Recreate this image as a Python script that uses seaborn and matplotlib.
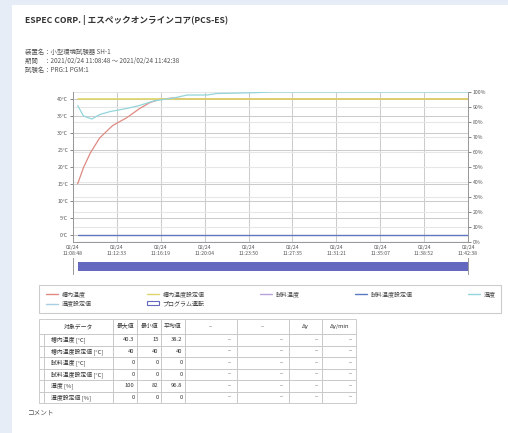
import matplotlib
matplotlib.use("Agg")
import matplotlib.pyplot as plt
from matplotlib.lines import Line2D
from matplotlib.patches import Patch, Rectangle
import seaborn as sns

# ------------------------------- data ------------------------------------------------------------------

title = "ESPEC CORP. | エスペックオンラインコア(PCS-ES)"
info_lines = ["装置名：小型環境試験器 SH-1",
              "期間　：2021/02/24 11:08:48 ～ 2021/02/24 11:42:38",
              "試験名：PRG:1 PGM:1"]
comment_label = "コメント"

start_clock = "11:08:48"
end_clock = "11:42:38"
tick_date = "02/24"
tick_clocks = ["11:08:48", "11:12:33", "11:16:19", "11:20:04", "11:23:50",
               "11:27:35", "11:31:21", "11:35:07", "11:38:52", "11:42:38"]

# elapsed minutes since start
chamber_min = [0.4, 0.9, 1.5, 2.3, 3.4, 4.6, 5.7, 6.6, 7.5, 8.5, 10.0, 33.8]
chamber_temp = [15, 19.8, 24.2, 28.6, 32.2, 34.5, 37.2, 39.0, 40.0, 40.3, 40.0, 40.0]

humid_min = [0.4, 0.9, 1.6, 2.3, 3.2, 4.6, 5.7, 6.9, 8.6, 9.8, 11.5, 12.3, 15.4, 17.0, 33.8]
humid_pct = [91, 84, 82, 85, 87, 89, 91, 94, 96, 98, 98, 99, 99.5, 100, 100]

setpoint_min = [0.4, 33.8]
chamber_set = [40, 40]
sample_temp = [0, 0]
sample_set = [0, 0]
humid_set = [0, 0]
program_span = [0.4, 33.8]

temp_ticks = [0, 5, 10, 15, 20, 25, 30, 35, 40]
humid_ticks = [0, 10, 20, 30, 40, 50, 60, 70, 80, 90, 100]

legend_labels = ["槽内温度", "槽内温度設定値", "試料温度", "試料温度設定値", "湿度",
                 "湿度設定値", "プログラム運転"]

table_cols = ["対象データ", "最大値", "最小値", "平均値", "--", "--", "Δy", "Δy/min"]
table_rows = ["槽内温度 [°C]", "槽内温度設定値 [°C]", "試料温度 [°C]",
              "試料温度設定値 [°C]", "湿度 [%]", "湿度設定値 [%]"]
table_max = [40.3, 40, 0, 0, 100, 0]
table_min = [15, 40, 0, 0, 82, 0]
table_mean = [38.2, 40, 0, 0, 96.8, 0]

# ------------------------------- styling ----------------------------------------------

C_CHAMBER = "#de8a82"
C_CHAMBER_SET = "#ddd46a"
C_SAMPLE = "#b9a3dc"
C_SAMPLE_SET = "#5a78bd"
C_HUMID = "#93d5da"
C_HUMID_SET = "#a9cde2"
C_PROGRAM = "#6468be"

W, H = 508, 433


def fx(px):
    return px / W


def fy(py):
    return 1 - py / H


def to_min(clock):
    h, m, s = map(int, clock.split(":"))
    h0, m0, s0 = map(int, start_clock.split(":"))
    return ((h * 3600 + m * 60 + s) - (h0 * 3600 + m0 * 60 + s0)) / 60


sns.set_theme(style="white")
plt.rcParams['font.family'] = ['Noto Sans CJK JP', 'DejaVu Sans']

fig = plt.figure(figsize=(W / 100, H / 100), dpi=100, facecolor="#e6edf7")
fig.add_artist(Rectangle((fx(12), 0), 1, fy(5), transform=fig.transFigure,
                         facecolor="white", edgecolor="none", zorder=-5))

# header texts
fig.text(fx(25), fy(20), title, fontsize=6.2, fontweight="bold", color="#333333", va="center")
for i, line in enumerate(info_lines):
    fig.text(fx(25), fy(52 + i * 9), line, fontsize=4.6, color="#555555", va="center")
fig.text(fx(28), fy(413), comment_label, fontsize=4.8, color="#555555", va="center")

# ------------------------------- chart ----------------------------------------------

ax = fig.add_axes([fx(73), fy(242), fx(468) - fx(73), fy(92) - fy(242)])
ax2 = ax.twinx()
t_lo, t_hi = -2.2, 42.1
x_lo, x_hi = 0, to_min(end_clock)

sns.lineplot(x=chamber_min, y=chamber_temp, ax=ax, color=C_CHAMBER, linewidth=0.9)
sns.lineplot(x=setpoint_min, y=chamber_set, ax=ax, color=C_CHAMBER_SET, linewidth=1.2)
sns.lineplot(x=setpoint_min, y=sample_temp, ax=ax, color=C_SAMPLE, linewidth=0.9)
sns.lineplot(x=setpoint_min, y=sample_set, ax=ax, color=C_SAMPLE_SET, linewidth=0.9)
sns.lineplot(x=humid_min, y=humid_pct, ax=ax2, color=C_HUMID, linewidth=0.9)
sns.lineplot(x=setpoint_min, y=humid_set, ax=ax2, color=C_HUMID_SET, linewidth=0.9)

ax.set_xlim(x_lo, x_hi)
ax.set_ylim(t_lo, t_hi)
ax2.set_ylim(0, 100)

ax.set_xticks([to_min(c) for c in tick_clocks])
ax.set_xticklabels([f"{tick_date}\n{c}" for c in tick_clocks])
ax.set_yticks(temp_ticks)
ax.set_yticklabels([f"{v}°C" for v in temp_ticks])
ax2.set_yticks(humid_ticks)
ax2.set_yticklabels([f"{v}%" for v in humid_ticks])

# humidity grid drawn on the back axes so the lines stay on top
ax.set_yticks([t_lo + (t_hi - t_lo) * p / 100 for p in humid_ticks], minor=True)
ax.grid(which="major", axis="both", color="#cccccc", linewidth=0.75)
ax.grid(which="minor", axis="y", color="#e6e6e6", linewidth=0.75)
ax2.grid(False)
ax.set_axisbelow(True)

for a in (ax, ax2):
    a.set_xlabel("")
    a.set_ylabel("")
    a.spines["top"].set_visible(False)
    for s in ("left", "right", "bottom"):
        a.spines[s].set_color("#999999")
        a.spines[s].set_linewidth(0.7)
ax.tick_params(axis="both", which="major", labelsize=3.7, colors="#555555",
               length=2, width=0.5, pad=1.5)
ax.tick_params(axis="y", which="minor", length=0)
ax.tick_params(axis="x", length=0, pad=2)
ax2.tick_params(axis="y", labelsize=3.7, colors="#555555", length=2, width=0.5, pad=1.5)

# program run bar
axb = fig.add_axes([fx(73), fy(274), fx(468) - fx(73), fy(258) - fy(274)])
axb.barh([0.47], [program_span[1] - program_span[0]], left=[program_span[0]],
         height=0.56, color=C_PROGRAM, edgecolor="none")
axb.set_xlim(x_lo, x_hi)
axb.set_ylim(0, 1)
axb.set_xticks([])
axb.set_yticks([])
for s in ("top", "bottom"):
    axb.spines[s].set_visible(False)
for s in ("left", "right"):
    axb.spines[s].set_color("#999999")
    axb.spines[s].set_linewidth(0.7)
axb.patch.set_alpha(0)

# ------------------------------- legend ----------------------------------------------

fig.add_artist(Rectangle((fx(39), fy(313)), fx(501) - fx(39), fy(285) - fy(313),
                         transform=fig.transFigure, facecolor="none",
                         edgecolor="#cccccc", linewidth=0.8))
colors = [C_CHAMBER, C_CHAMBER_SET, C_SAMPLE, C_SAMPLE_SET, C_HUMID, C_HUMID_SET]
handles = [Line2D([], [], color=c, linewidth=1.0) for c in colors]
handles.append(Patch(facecolor="white", edgecolor=C_PROGRAM, linewidth=0.8))
order = [0, 5, 1, 6, 2, 3, 4]
fig.legend([handles[i] for i in order], [legend_labels[i] for i in order],
           loc="upper left", bbox_to_anchor=(fx(42), fy(313), fx(500) - fx(42), fy(287) - fy(313)),
           mode="expand", ncol=5, frameon=False, fontsize=4.3, handlelength=2.0,
           handleheight=0.6, handletextpad=0.6, labelspacing=0.6, borderpad=0.2,
           labelcolor="#444444")

# ------------------------------- table ----------------------------------------------

axt = fig.add_axes([fx(39), fy(403), fx(356) - fx(39), fy(319) - fy(403)])
axt.axis("off")
cells = [[""] + table_cols]
for name, mx, mn, av in zip(table_rows, table_max, table_min, table_mean):
    cells.append(["", name, f"{mx:g}", f"{mn:g}", f"{av:g}", "--", "--", "--", "--"])
col_px = [5, 69, 24, 24, 24, 52, 52, 33, 34]
tab = axt.table(cellText=cells, colWidths=[w / sum(col_px) for w in col_px],
                cellLoc="right", bbox=[0, 0, 1, 1])
tab.auto_set_font_size(False)
tab.set_fontsize(4.2)
for (r, c), cell in tab.get_celld().items():
    cell.set_edgecolor("#c4c4c4")
    cell.set_linewidth(0.6)
    cell.set_height(15 if r == 0 else 11.5)
    txt = cell.get_text()
    txt.set_color("#333333")
    if r == 0:
        txt.set_ha("center")
        if c == 0:
            cell.visible_edges = "BLT"
        elif c == 1:
            cell.visible_edges = "BRT"
    elif c == 1:
        txt.set_ha("left")

fig.savefig("out.png", dpi=100)
